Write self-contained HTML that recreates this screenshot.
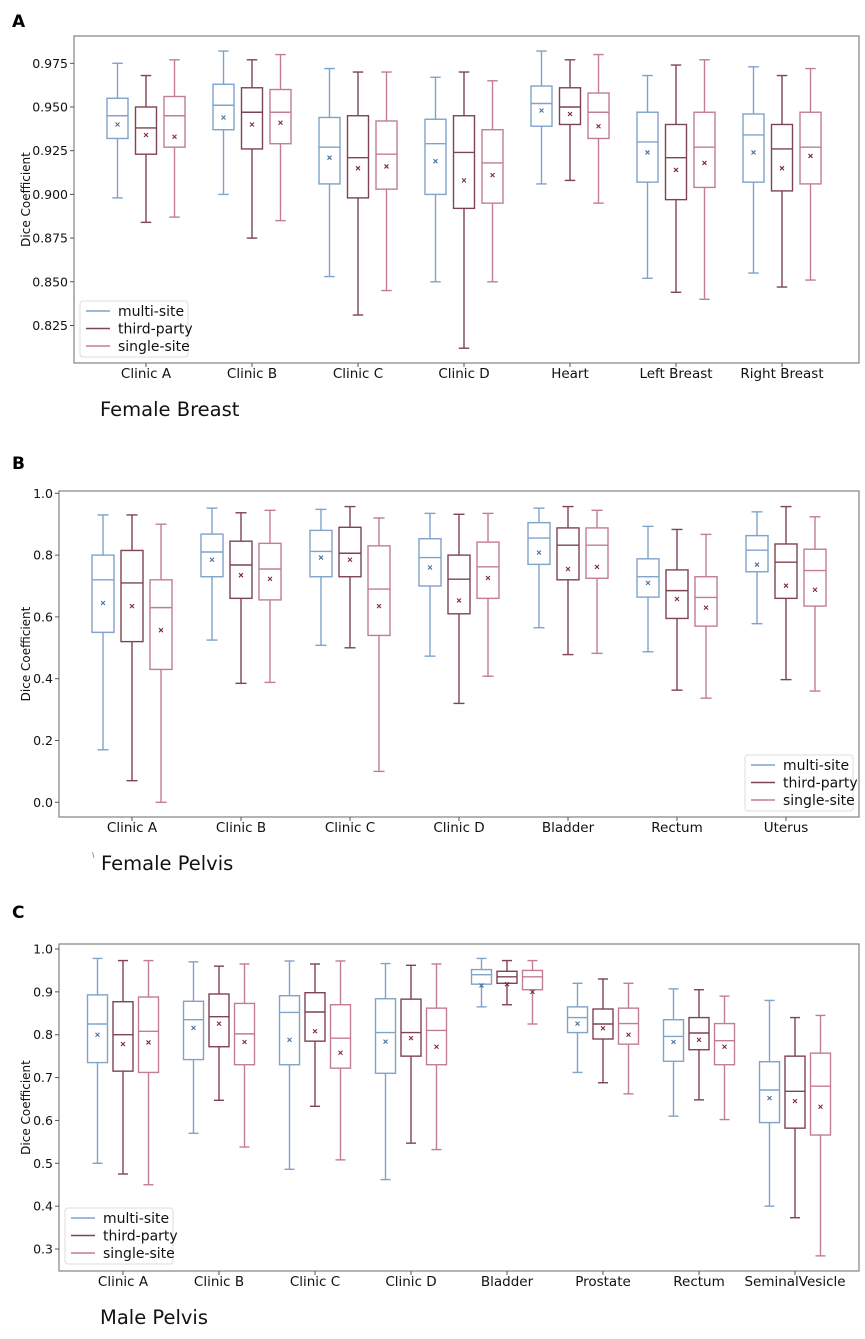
<!DOCTYPE html>
<html><head><meta charset="utf-8">
<style>
body{margin:0;background:#fff;}
svg{display:block;}
text{font-family:"DejaVu Sans","Liberation Sans",sans-serif;}
</style></head>
<body>
<svg id="fig" width="865" height="1339" viewBox="0 0 865 1339" xmlns="http://www.w3.org/2000/svg"></svg>
<script>
// series order per group: multi-site, third-party, single-site; each: [low, q1, median, q3, high, mean]
const seriesNames = ["multi-site","third-party","single-site"];
const catsA = ["Clinic A","Clinic B","Clinic C","Clinic D","Heart","Left Breast","Right Breast"];
const multiA = [[0.898,0.932,0.945,0.955,0.975,0.940],[0.900,0.937,0.951,0.963,0.982,0.944],[0.853,0.906,0.927,0.944,0.972,0.921],[0.850,0.900,0.929,0.943,0.967,0.919],[0.906,0.939,0.952,0.962,0.982,0.948],[0.852,0.907,0.930,0.947,0.968,0.924],[0.855,0.907,0.934,0.946,0.973,0.924]];
const thirdA = [[0.884,0.923,0.938,0.950,0.968,0.934],[0.875,0.926,0.947,0.961,0.977,0.940],[0.831,0.898,0.921,0.945,0.970,0.915],[0.812,0.892,0.924,0.945,0.970,0.908],[0.908,0.940,0.950,0.961,0.977,0.946],[0.844,0.897,0.921,0.940,0.974,0.914],[0.847,0.902,0.926,0.940,0.968,0.915]];
const singleA = [[0.887,0.927,0.945,0.956,0.977,0.933],[0.885,0.929,0.947,0.960,0.980,0.941],[0.845,0.903,0.923,0.942,0.970,0.916],[0.850,0.895,0.918,0.937,0.965,0.911],[0.895,0.932,0.947,0.958,0.980,0.939],[0.840,0.904,0.927,0.947,0.977,0.918],[0.851,0.906,0.927,0.947,0.972,0.922]];
const ticksA = [0.825,0.850,0.875,0.900,0.925,0.950,0.975];
const tickLabelsA = ["0.825","0.850","0.875","0.900","0.925","0.950","0.975"];

const catsB = ["Clinic A","Clinic B","Clinic C","Clinic D","Bladder","Rectum","Uterus"];
const multiB = [[0.17,0.55,0.72,0.80,0.93,0.645],[0.525,0.73,0.81,0.868,0.952,0.785],[0.508,0.73,0.812,0.88,0.948,0.792],[0.473,0.70,0.792,0.853,0.935,0.76],[0.565,0.77,0.855,0.905,0.952,0.808],[0.487,0.664,0.730,0.788,0.893,0.71],[0.578,0.746,0.816,0.863,0.940,0.769]];
const thirdB = [[0.07,0.52,0.71,0.815,0.93,0.635],[0.385,0.66,0.768,0.845,0.937,0.735],[0.50,0.73,0.806,0.89,0.957,0.785],[0.32,0.61,0.722,0.80,0.932,0.653],[0.478,0.72,0.832,0.888,0.957,0.755],[0.363,0.595,0.685,0.752,0.883,0.658],[0.397,0.660,0.777,0.836,0.957,0.701]];
const singleB = [[0.0,0.43,0.63,0.72,0.90,0.557],[0.388,0.655,0.755,0.838,0.945,0.723],[0.10,0.54,0.69,0.83,0.92,0.635],[0.408,0.66,0.762,0.842,0.935,0.726],[0.482,0.725,0.832,0.888,0.945,0.762],[0.337,0.570,0.663,0.730,0.867,0.63],[0.360,0.635,0.75,0.819,0.924,0.688]];
const ticksB = [0,0.2,0.4,0.6,0.8,1.0];
const tickLabelsB = ["0.0","0.2","0.4","0.6","0.8","1.0"];

const catsC = ["Clinic A","Clinic B","Clinic C","Clinic D","Bladder","Prostate","Rectum","SeminalVesicle"];
const multiC = [[0.50,0.735,0.825,0.893,0.978,0.80],[0.57,0.742,0.835,0.878,0.97,0.816],[0.486,0.73,0.852,0.891,0.972,0.788],[0.462,0.71,0.805,0.884,0.966,0.784],[0.865,0.918,0.94,0.952,0.978,0.915],[0.712,0.805,0.84,0.865,0.92,0.826],[0.61,0.738,0.796,0.835,0.907,0.783],[0.40,0.595,0.671,0.737,0.88,0.652]];
const thirdC = [[0.475,0.715,0.80,0.877,0.973,0.778],[0.647,0.772,0.842,0.895,0.96,0.826],[0.633,0.785,0.853,0.898,0.965,0.808],[0.547,0.75,0.805,0.883,0.962,0.792],[0.87,0.92,0.935,0.948,0.973,0.918],[0.688,0.79,0.825,0.86,0.93,0.815],[0.648,0.765,0.804,0.84,0.905,0.788],[0.373,0.582,0.668,0.75,0.84,0.645]];
const singleC = [[0.45,0.712,0.808,0.888,0.973,0.782],[0.538,0.73,0.802,0.873,0.965,0.783],[0.508,0.722,0.792,0.87,0.972,0.758],[0.532,0.73,0.81,0.862,0.965,0.772],[0.825,0.905,0.935,0.95,0.973,0.90],[0.662,0.778,0.826,0.862,0.92,0.80],[0.602,0.73,0.786,0.826,0.89,0.772],[0.284,0.566,0.68,0.757,0.845,0.632]];
const ticksC = [0.3,0.4,0.5,0.6,0.7,0.8,0.9,1.0];
const tickLabelsC = ["0.3","0.4","0.5","0.6","0.7","0.8","0.9","1.0"];

const colors = ["#7fa3cb","#7d4452","#c27d93"];
const NS = "http://www.w3.org/2000/svg";
const svg = document.getElementById("fig");
function el(tag, attrs, parent, txt){
  const e = document.createElementNS(NS, tag);
  for (const k in attrs) e.setAttribute(k, attrs[k]);
  if (txt !== undefined) e.textContent = txt;
  (parent||svg).appendChild(e);
  return e;
}

function panel(cfg){
  const g = el("g", {});
  
  
  const yScale = v => cfg.y0px + (cfg.y0v - v) * cfg.pxPerUnit;
  const xScale = i => cfg.x0 + cfg.dx * i;
  const lt = el("text", {x:12, y:cfg.letterY, "font-size":17, "font-weight":"bold", "font-family":"Liberation Sans, sans-serif"}, g, cfg.letter);
  
  
  const fr = el("rect", {x:cfg.L, y:cfg.T, width:cfg.R-cfg.L, height:cfg.B-cfg.T, fill:"none", stroke:"#8c8c8c", "stroke-width":1.3}, g);
  
  
  cfg.ticks.forEach((t, k) => {
    const y = yScale(t);
    const tl = el("line", {x1:cfg.L-4, x2:cfg.L, y1:y, y2:y, stroke:"#555", "stroke-width":1}, g);
    
    
    const tx = el("text", {x:cfg.L-6, y:y+4.5, "text-anchor":"end", "font-size":12.5, fill:"#111"}, g, cfg.tickLabels[k]);
    
    
  });
  const yl = el("text", {transform:`translate(${cfg.yLabelX},${(cfg.T+cfg.B)/2}) rotate(-90)`, "text-anchor":"middle", "font-size":12, fill:"#111"}, g, "Dice Coefficient");
  
  
  cfg.cats.forEach((c, i) => {
    const cx = xScale(i);
    const tk = el("line", {x1:cx, x2:cx, y1:cfg.B, y2:cfg.B+4, stroke:"#555"}, g);
    
    
    const xl = el("text", {x:cx, y:cfg.B+15, "text-anchor":"middle", "font-size":13.5, fill:"#111", "font-family":"Liberation Sans, sans-serif"}, g, c);
    
    
    cfg.series.forEach((arr, s) => {
      const d = arr[i];
      const bx = cx + (s-1)*cfg.off;
      const w = cfg.bw, col = colors[s];
      const bg = el("g", {stroke:col, "stroke-width":1.4, fill:"none"}, g);
      
      
      const yl0 = yScale(d[0]), yq1 = yScale(d[1]), ym = yScale(d[2]), yq3 = yScale(d[3]), yh = yScale(d[4]), ymean = yScale(d[5]);
      el("line", {x1:bx, x2:bx, y1:yq1, y2:yl0}, bg);
      el("line", {x1:bx, x2:bx, y1:yq3, y2:yh}, bg);
      el("line", {x1:bx-w/4, x2:bx+w/4, y1:yl0, y2:yl0}, bg);
      el("line", {x1:bx-w/4, x2:bx+w/4, y1:yh, y2:yh}, bg);
      el("rect", {x:bx-w/2, y:yq3, width:w, height:yq1-yq3}, bg);
      el("line", {x1:bx-w/2, x2:bx+w/2, y1:ym, y2:ym}, bg);
      el("path", {d:`M${bx-2} ${ymean-2}L${bx+2} ${ymean+2}M${bx-2} ${ymean+2}L${bx+2} ${ymean-2}`, "stroke-width":1.1, stroke:s==0?"#4a6f9c":"#7a2a40"}, bg);
    });
  });
  const lg = el("g", {}, g);
  
  
  el("rect", {x:cfg.legX, y:cfg.legY, width:108, height:56, rx:3, fill:"#fff", stroke:"#ddd", "stroke-width":1}, lg);
  seriesNames.forEach((n, s) => {
    const yy = cfg.legY + 10 + s*17.5;
    const ln = el("line", {x1:cfg.legX+6, x2:cfg.legX+30, y1:yy, y2:yy, stroke:colors[s], "stroke-width":1.6}, lg);
    
    
    const t = el("text", {x:cfg.legX+38, y:yy+5, "font-size":14, fill:"#111", "font-family":"Liberation Sans, sans-serif"}, lg, n);
    
    
  });
  const tt = el("text", {x:cfg.titleX, y:cfg.titleY, "font-size":19.5, fill:"#111", "font-family":"Liberation Sans, sans-serif"}, g, cfg.title);
  
  
}

panel({id:"female-breast", letter:"A", letterY:27, L:74, T:36, R:859, B:363, y0v:0.975, y0px:63.3, pxPerUnit:43.7/0.025,
  ticks:ticksA, tickLabels:tickLabelsA, cats:catsA, series:[multiA,thirdA,singleA], x0:146, dx:106, off:28.5, bw:21,
  yLabelX:30, legX:80, legY:301, title:"Female Breast", titleX:100, titleY:416});
panel({id:"female-pelvis", letter:"B", letterY:469, L:59, T:491, R:859, B:817, y0v:1.0, y0px:493.3, pxPerUnit:309,
  ticks:ticksB, tickLabels:tickLabelsB, cats:catsB, series:[multiB,thirdB,singleB], x0:132, dx:109, off:29, bw:22,
  yLabelX:30, legX:745, legY:755, title:"Female Pelvis", titleX:101, titleY:870});
panel({id:"male-pelvis", letter:"C", letterY:918, L:59, T:944, R:859, B:1271, y0v:1.0, y0px:949, pxPerUnit:428.6,
  ticks:ticksC, tickLabels:tickLabelsC, cats:catsC, series:[multiC,thirdC,singleC], x0:123, dx:96, off:25.5, bw:20,
  yLabelX:30, legX:65, legY:1208, title:"Male Pelvis", titleX:100, titleY:1324});

const stray = el("line", {x1:92.5, y1:852, x2:94, y2:858, stroke:"#7fa3cb", "stroke-width":1});


</script>
</body></html>
